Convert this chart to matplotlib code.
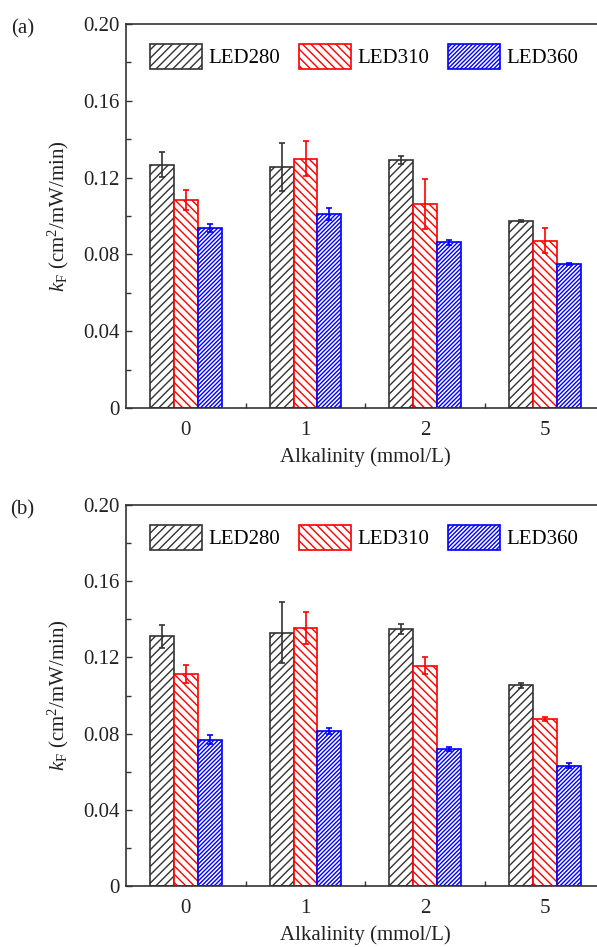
import numpy as np
import matplotlib
matplotlib.use('Agg')
import matplotlib.pyplot as plt
from matplotlib.ticker import FixedLocator, FuncFormatter

plt.rcParams['font.family'] = 'Liberation Serif'
plt.rcParams['mathtext.fontset'] = 'custom'
plt.rcParams['mathtext.rm'] = 'Liberation Serif'
plt.rcParams['mathtext.it'] = 'Liberation Serif:italic'
plt.rcParams['font.size'] = 15
plt.rcParams['hatch.linewidth'] = 1.0

groups = ['0', '1', '2', '5']
series = ['LED280', 'LED310', 'LED360']

# panel (a)
a_led280 = [0.1266, 0.1257, 0.1292, 0.0976]
a_led280_err = [0.0065, 0.0125, 0.0022, 0.0005]
a_led310 = [0.1083, 0.1299, 0.1064, 0.0872]
a_led310_err = [0.0050, 0.0090, 0.0130, 0.0065]
a_led360 = [0.0936, 0.1010, 0.0863, 0.0752]
a_led360_err = [0.0020, 0.0030, 0.0014, 0.0005]

# panel (b)
b_led280 = [0.1312, 0.1330, 0.1349, 0.1053]
b_led280_err = [0.0060, 0.0160, 0.0028, 0.0014]
b_led310 = [0.1111, 0.1356, 0.1156, 0.0877]
b_led310_err = [0.0047, 0.0084, 0.0044, 0.0012]
b_led360 = [0.0768, 0.0812, 0.0718, 0.0632]
b_led360_err = [0.0025, 0.0015, 0.0010, 0.0015]

colors = ['#333333', '#ff0000', '#0000ff']
hatches = ['////', '\\\\\\\\', '////////']

fig = plt.figure(figsize=(5.97, 9.47), dpi=100)
ax1 = fig.add_axes([0.211, 0.5692, 0.802, 0.4055])
ax2 = fig.add_axes([0.211, 0.0644, 0.802, 0.4023])

x = np.arange(len(groups))
w = 0.2

def draw_panel(ax, vals, errs, tag):
    for i in range(3):
        ax.bar(x + (i - 1) * w, vals[i], w, facecolor='white', edgecolor=colors[i],
               hatch=hatches[i], linewidth=1.2, label=series[i], zorder=2)
        ax.errorbar(x + (i - 1) * w, vals[i], yerr=errs[i], fmt='none', ecolor=colors[i],
                    elinewidth=1.2, capsize=2.5, capthick=1.2, zorder=3)
    ax.set_xlim(-0.5, 3.5)
    ax.set_ylim(0, 0.20)
    ax.set_xticks(x)
    ax.set_xticklabels(groups)
    ax.xaxis.set_minor_locator(FixedLocator([0.5, 1.5, 2.5]))
    ax.set_yticks([0, 0.04, 0.08, 0.12, 0.16, 0.20])
    ax.yaxis.set_major_formatter(FuncFormatter(lambda v, p: '0' if v == 0 else '%.2f' % v))
    ax.yaxis.set_minor_locator(FixedLocator([0.02, 0.06, 0.10, 0.14, 0.18]))
    ax.tick_params(which='both', direction='in', colors='#333333', labelcolor='#222222',
                   width=1.0, top=False, right=False)
    ax.tick_params(which='major', length=4.5)
    ax.tick_params(axis='x', which='major', pad=9.5)
    ax.tick_params(axis='y', which='major', pad=4.5)
    ax.tick_params(which='minor', length=3.5)
    for s in ax.spines.values():
        s.set_color('#333333')
        s.set_linewidth(1.2)
    ax.set_xlabel('Alkalinity (mmol/L)', color='#222222', labelpad=5)
    ax.set_ylabel(r'$k_\mathrm{F}$ (cm$^2$/mW/min)', color='#222222', labelpad=9)
    ax.legend(loc='upper left', bbox_to_anchor=(0.05, 0.948), ncol=3, frameon=False,
              handlelength=2.5, handleheight=1.45, handletextpad=0.3, columnspacing=0.9,
              borderpad=0, borderaxespad=0)
    fig.text(0.038, ax.get_position().y1 - 0.005, tag, ha='center', va='center', color='#222222')

draw_panel(ax1, [a_led280, a_led310, a_led360], [a_led280_err, a_led310_err, a_led360_err], '(a)')
draw_panel(ax2, [b_led280, b_led310, b_led360], [b_led280_err, b_led310_err, b_led360_err], '(b)')

fig.savefig('out.png', dpi=100)
